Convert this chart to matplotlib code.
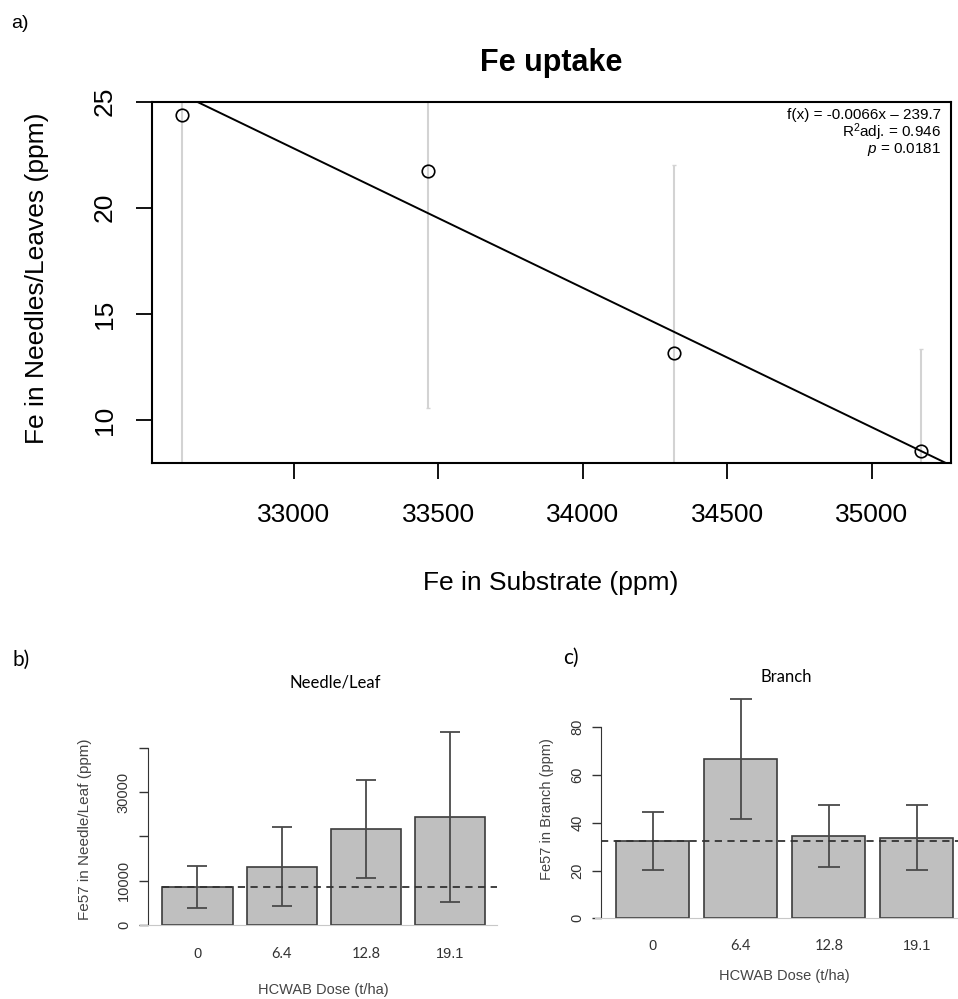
import numpy as np
import matplotlib
matplotlib.use("Agg")
import matplotlib.pyplot as plt

plt.rcParams['font.family'] = ['Liberation Sans', 'DejaVu Sans']
plt.rcParams['mathtext.fontset'] = 'custom'
plt.rcParams['mathtext.rm'] = 'Liberation Sans'
plt.rcParams['mathtext.it'] = 'Liberation Sans:italic'

# panel a: Fe in substrate vs Fe in needles/leaves
fe_substrate = [32613, 33464, 34315, 35171]
fe_needles = [24.37, 21.73, 13.14, 8.55]
fe_needles_err = [17.0, 11.16, 8.88, 4.8]
stats_lines = ['f(x) = -0.0066x \u2013 239.7', 'R$^2$adj. = 0.946', '$p$ = 0.0181']

# panels b and c: Fe57 by HCWAB dose
doses = ['0', '6.4', '12.8', '19.1']
needle_vals = [8578, 13160, 21670, 24310]
needle_err = [4750, 8870, 11140, 19190]
branch_vals = [32.4, 66.85, 34.3, 33.8]
branch_err = [12.0, 25.2, 13.0, 13.5]

W, H = 958, 999
fig = plt.figure(figsize=(W / 100, H / 100), dpi=100)


def box(l, t, r, b):
    return [l / W, 1 - b / H, (r - l) / W, (b - t) / H]


def ftext(x, y, s, **kw):
    fig.text(x / W, 1 - y / H, s, **kw)


# ---- a) ----
ax = fig.add_axes(box(152, 101.7, 951, 463.3))
xr = max(fe_substrate) - min(fe_substrate)
ax.set_xlim(min(fe_substrate) - 0.04 * xr, max(fe_substrate) + 0.04 * xr)
ax.set_ylim(7.96, 25)
ax.errorbar(fe_substrate, fe_needles, yerr=fe_needles_err, fmt='none',
            ecolor='#d3d3d3', elinewidth=1.5, capsize=1.5, zorder=1)
ax.plot(fe_substrate, fe_needles, 'o', ms=9, mfc='none', mec='black', mew=1.2, zorder=3)
slope, icpt = np.polyfit(fe_substrate, fe_needles, 1)
xs = np.array(ax.get_xlim())
ax.plot(xs, slope * xs + icpt, color='black', lw=1.4, zorder=2)
for sp in ax.spines.values():
    sp.set_linewidth(1.5)
ax.set_xticks([33000, 33500, 34000, 34500, 35000])
ax.set_yticks([10, 15, 20, 25])
ax.tick_params(direction='out', length=11.5, width=1.3, labelsize=19)
ax.tick_params(axis='x', pad=17)
ax.tick_params(axis='y', pad=14)
for lab in ax.get_yticklabels():
    lab.set_rotation(90)
    lab.set_va('center')
for i, s in enumerate(stats_lines):
    ax.text((941 - 152) / 799, (463.3 - (115 + 17.5 * i)) / 361.6, s,
            transform=ax.transAxes, ha='right', va='center', fontsize=11)

ftext(551, 63, 'Fe uptake', ha='center', va='center', fontsize=22, fontweight='bold')
ftext(11, 24, 'a)', ha='left', va='center', fontsize=14)
ftext(551, 583, 'Fe in Substrate (ppm)', ha='center', va='center', fontsize=19)
ftext(37.5, 278, 'Fe in Needles/Leaves (ppm)', ha='center', va='center',
      fontsize=19, rotation=90)


# ---- b) and c) ----
def bar_panel(rect, xlim, ylim, vals, errs, yticks, ylabels, capsize, dash_from):
    bx = fig.add_axes(rect)
    pos = np.arange(len(vals)) * 1.2 + 0.7
    bx.bar(pos, vals, width=1.0, color='#bfbfbf', edgecolor='#3c3c3c', lw=1.2, zorder=2)
    bx.errorbar(pos, vals, yerr=errs, fmt='none', ecolor='#4a4a4a', elinewidth=1.3,
                capsize=capsize, capthick=1.3, zorder=3)
    bx.hlines(vals[0], dash_from, xlim[1], colors='#333333', linestyles=(0, (4, 3)),
              lw=1.3, zorder=4)
    bx.set_xlim(*xlim)
    bx.set_ylim(*ylim)
    bx.spines['top'].set_visible(False)
    bx.spines['right'].set_visible(False)
    bx.spines['bottom'].set_color('#c8c8c8')
    bx.spines['left'].set_position(('data', 0))
    bx.spines['left'].set_bounds(yticks[0], yticks[-1])
    bx.spines['left'].set_color('#333333')
    bx.set_yticks(yticks)
    bx.set_yticklabels(ylabels, rotation=90, va='center', fontsize=10.5, color='#333333')
    bx.tick_params(axis='y', length=6.5, width=1, color='#333333', pad=6)
    bx.set_xticks(pos)
    bx.set_xticklabels(doses, fontsize=10.5, color='#333333')
    for lab in bx.get_xticklabels()[1:3]:
        lab.set_fontfamily('Lato')
    bx.tick_params(axis='x', length=0)
    return bx


b = bar_panel(box(139.9, 725.6, 497.4, 925), (-0.12, 4.97), (0, 45000),
              needle_vals, needle_err, [0, 10000, 20000, 30000, 40000],
              ['0', '10000', '', '30000', ''], 7.2, 0.2)
b.tick_params(axis='x', pad=16)
c = bar_panel(box(594.9, 691.5, 958, 918.3), (-0.09, 4.862), (0, 95),
              branch_vals, branch_err, [0, 20, 40, 60, 80],
              ['0', '20', '40', '60', '80'], 7.9, 0)
c.tick_params(axis='x', pad=15)

ftext(13, 660, 'b)', ha='left', va='center', fontsize=15, family=['Lato'])
ftext(335, 682, 'Needle/Leaf', ha='center', va='center', fontsize=12, family=['Lato'])
ftext(323, 990, 'HCWAB Dose (t/ha)', ha='center', va='center', fontsize=10.5, color='#444444')
ftext(85, 829, 'Fe57 in Needle/Leaf (ppm)', ha='center', va='center', fontsize=11,
      rotation=90, color='#444444')

ftext(563, 658, 'c)', ha='left', va='center', fontsize=15, family=['Lato'])
ftext(786, 677, 'Branch', ha='center', va='center', fontsize=12, family=['Lato'])
ftext(784, 976, 'HCWAB Dose (t/ha)', ha='center', va='center', fontsize=10.5, color='#444444')
ftext(547, 809, 'Fe57 in Branch (ppm)', ha='center', va='center', fontsize=10.5,
      rotation=90, color='#444444')

fig.savefig('out.png', dpi=100)
